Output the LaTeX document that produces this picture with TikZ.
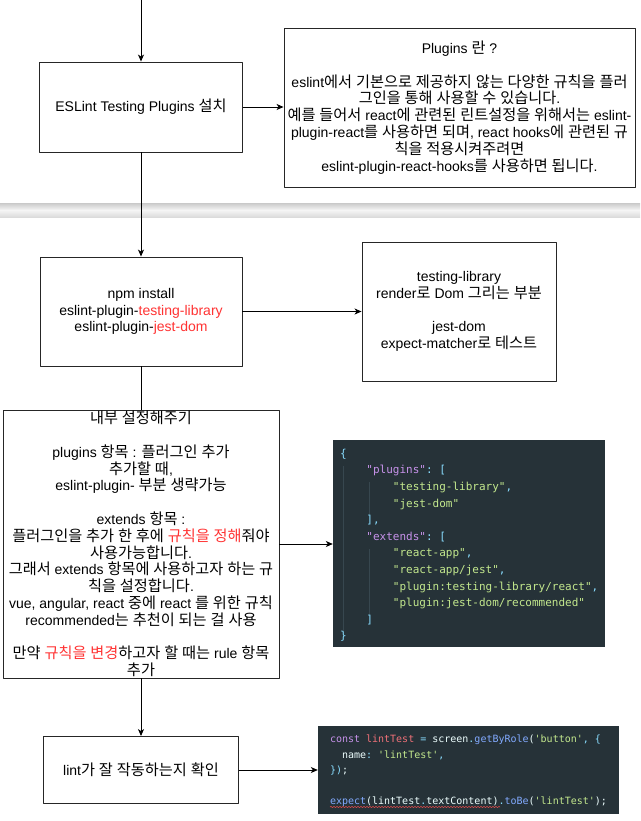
\documentclass[tikz,border=0pt]{standalone}
\usepackage{fontspec}
\setmainfont{Liberation Sans}
\setmonofont{DejaVu Sans Mono}
\newfontfamily\krfont[Scale=1.087]{Noto Sans CJK KR}
\newfontfamily\latinfont{Liberation Sans}
% switch to the Korean font for Hangul syllables
\XeTeXinterchartokenstate=1
\newXeTeXintercharclass\krclass
\count255="AC00
\loop
  \XeTeXcharclass\count255=\krclass
  \ifnum\count255<"D7A3 \advance\count255 by 1 \repeat
\XeTeXinterchartoks 0 \krclass = {\krfont}
\XeTeXinterchartoks 4095 \krclass = {\krfont}
\XeTeXinterchartoks \krclass 0 = {\latinfont}
\XeTeXinterchartoks \krclass 4095 = {\latinfont}
\usepackage{tikz}
\usetikzlibrary{arrows.meta,calc,decorations.pathmorphing}
\definecolor{hilite}{HTML}{FF3333}
\definecolor{codebg}{HTML}{263238}
\definecolor{codeguide}{HTML}{37474F}
\definecolor{codestr}{HTML}{C3E88D}
\definecolor{codekey}{HTML}{C792EA}
\definecolor{codepun}{HTML}{89DDFF}
\definecolor{codevar}{HTML}{F07178}
\definecolor{codefun}{HTML}{82AAFF}
\definecolor{codedef}{HTML}{EEFFFF}
\definecolor{squig}{HTML}{D04848}
\newcommand\redtxt[1]{\textcolor{hilite}{#1}}
\newcommand\cstr[1]{\textcolor{codestr}{#1}}
\newcommand\ckey[1]{\textcolor{codekey}{#1}}
\newcommand\cpun[1]{\textcolor{codepun}{#1}}
\newcommand\cvar[1]{\textcolor{codevar}{#1}}
\newcommand\cfun[1]{\textcolor{codefun}{#1}}
\newcommand\cdef[1]{\textcolor{codedef}{#1}}

\begin{document}
\begin{tikzpicture}[x=1pt,y=-1pt,>={Stealth[length=7pt,width=6pt,inset=2pt]},line join=round,
  box/.style={draw=black!85,line width=0.9pt,fill=white,align=center,inner sep=0pt,font=\fontsize{14}{16.8}\selectfont},
  codebox/.style={fill=codebg,inner sep=0pt},
  codetxt/.style={inner sep=0pt,align=left,text=codedef},
  link/.style={line width=0.9pt}]
\useasboundingbox (0,0) rectangle (640,821);
% separator band
\shade[top color=gray!42,bottom color=gray!28,middle color=gray!8] (0,203) rectangle (640,217);
% first step
\node[box,minimum width=203pt,minimum height=90pt] (install) at (141,107) {ESLint Testing Plugins 설치};
\node[box,minimum width=351pt,minimum height=159pt] (about) at (459.5,107.5) {Plugins 란 ?\\[16.8pt]
eslint에서 기본으로 제공하지 않는 다양한 규칙을 플러\\
그인을 통해 사용할 수 있습니다.\\
예를 들어서 react에 관련된 린트설정을 위해서는 eslint-\\
plugin-react를 사용하면 되며, react hooks에 관련된 규\\
칙을 적용시켜주려면\\
eslint-plugin-react-hooks를 사용하면 됩니다.};
% npm install
\node[box,minimum width=202pt,minimum height=109pt] (npm) at (141,311.5) {npm install\\
eslint-plugin-\redtxt{testing-library}\\
eslint-plugin-\redtxt{jest-dom}};
\node[box,minimum width=194pt,minimum height=139pt] (notes) at (459,311.5) {testing-library\\
render로 Dom 그리는 부분\\[16.8pt]
jest-dom\\
expect-matcher로 테스트};
% config
\node[box,minimum width=276pt,minimum height=268pt] (config) at (141,544) {내부 설정해주기\\[16.8pt]
plugins 항목 : 플러그인 추가\\
추가할 때,\\
eslint-plugin- 부분 생략가능\\[16.8pt]
extends 항목 :\\
플러그인을 추가 한 후에 \redtxt{규칙을 정해}줘야\\
사용가능합니다.\\
그래서 extends 항목에 사용하고자 하는 규\\
칙을 설정합니다.\\
vue, angular, react 중에 react 를 위한 규칙\\
recommended는 추천이 되는 걸 사용\\[16.8pt]
만약 \redtxt{규칙을 변경}하고자 할 때는 rule 항목\\
추가};
\node[codebox,minimum width=272pt,minimum height=207pt] (code1) at (469,543.5) {};
\draw[codeguide,line width=0.8pt] (343,466) -- (343,633);
\draw[codeguide,line width=0.8pt] (369,482) -- (369,515);
\draw[codeguide,line width=0.8pt] (369,549) -- (369,615);
\node[codetxt,anchor=north west,font=\ttfamily\fontsize{11}{16.6}\selectfont] (code1txt) at ($(code1.north west)+(7,9)$) {\cpun{\{}\\
\phantom{0000}\ckey{"plugins"}\cpun{: [}\\
\phantom{00000000}\cstr{"testing-library"}\cpun{,}\\
\phantom{00000000}\cstr{"jest-dom"}\\
\phantom{0000}\cpun{],}\\
\phantom{0000}\ckey{"extends"}\cpun{: [}\\
\phantom{00000000}\cstr{"react-app"}\cpun{,}\\
\phantom{00000000}\cstr{"react-app/jest"}\cpun{,}\\
\phantom{00000000}\cstr{"plugin:testing-library/react"}\cpun{,}\\
\phantom{00000000}\cstr{"plugin:jest-dom/recommended"}\\
\phantom{0000}\cpun{]}\\
\cpun{\}}};
% check
\node[box,minimum width=195pt,minimum height=67pt] (check) at (141,770) {lint가 잘 작동하는지 확인};
\node[codebox,minimum width=301pt,minimum height=88pt] (code2) at (468.5,770) {};
\node[codetxt,anchor=north west,font=\ttfamily\fontsize{10}{15.5}\selectfont] (code2txt) at ($(code2.north west)+(12,9)$) {\ckey{const} \cvar{lintTest} \cpun{=} screen\cpun{.}\cfun{getByRole}(\cstr{'button'}\cpun{,} \cpun{\{}\\
\phantom{00}name\cpun{:} \cstr{'lintTest'}\cpun{,}\\
\cpun{\})};\\[15.5pt]
\cfun{expect}(lintTest\cpun{.}textContent)\cpun{.}\cfun{toBe}(\cstr{'lintTest'});};
\draw[squig,line width=0.6pt,decorate,decoration={snake,amplitude=0.7pt,segment length=3pt}] (330,807) -- (500,807);
% connectors
\coordinate (start) at (141,0);
\draw[link,->] (start) -- (install);
\draw[link,->] (install.east) -- (install.east -| about.west);
\draw[link,->] (install) -- (npm);
\draw[link,->] (npm.east) -- (npm.east -| notes.west);
\draw[link] (npm) -- (config);
\draw[link,->] (config.east) -- (config.east -| code1.west);
\draw[link,->] (config) -- (check);
\draw[link,->] (check.east) -- (check.east -| code2.west);
\end{tikzpicture}
\end{document}
